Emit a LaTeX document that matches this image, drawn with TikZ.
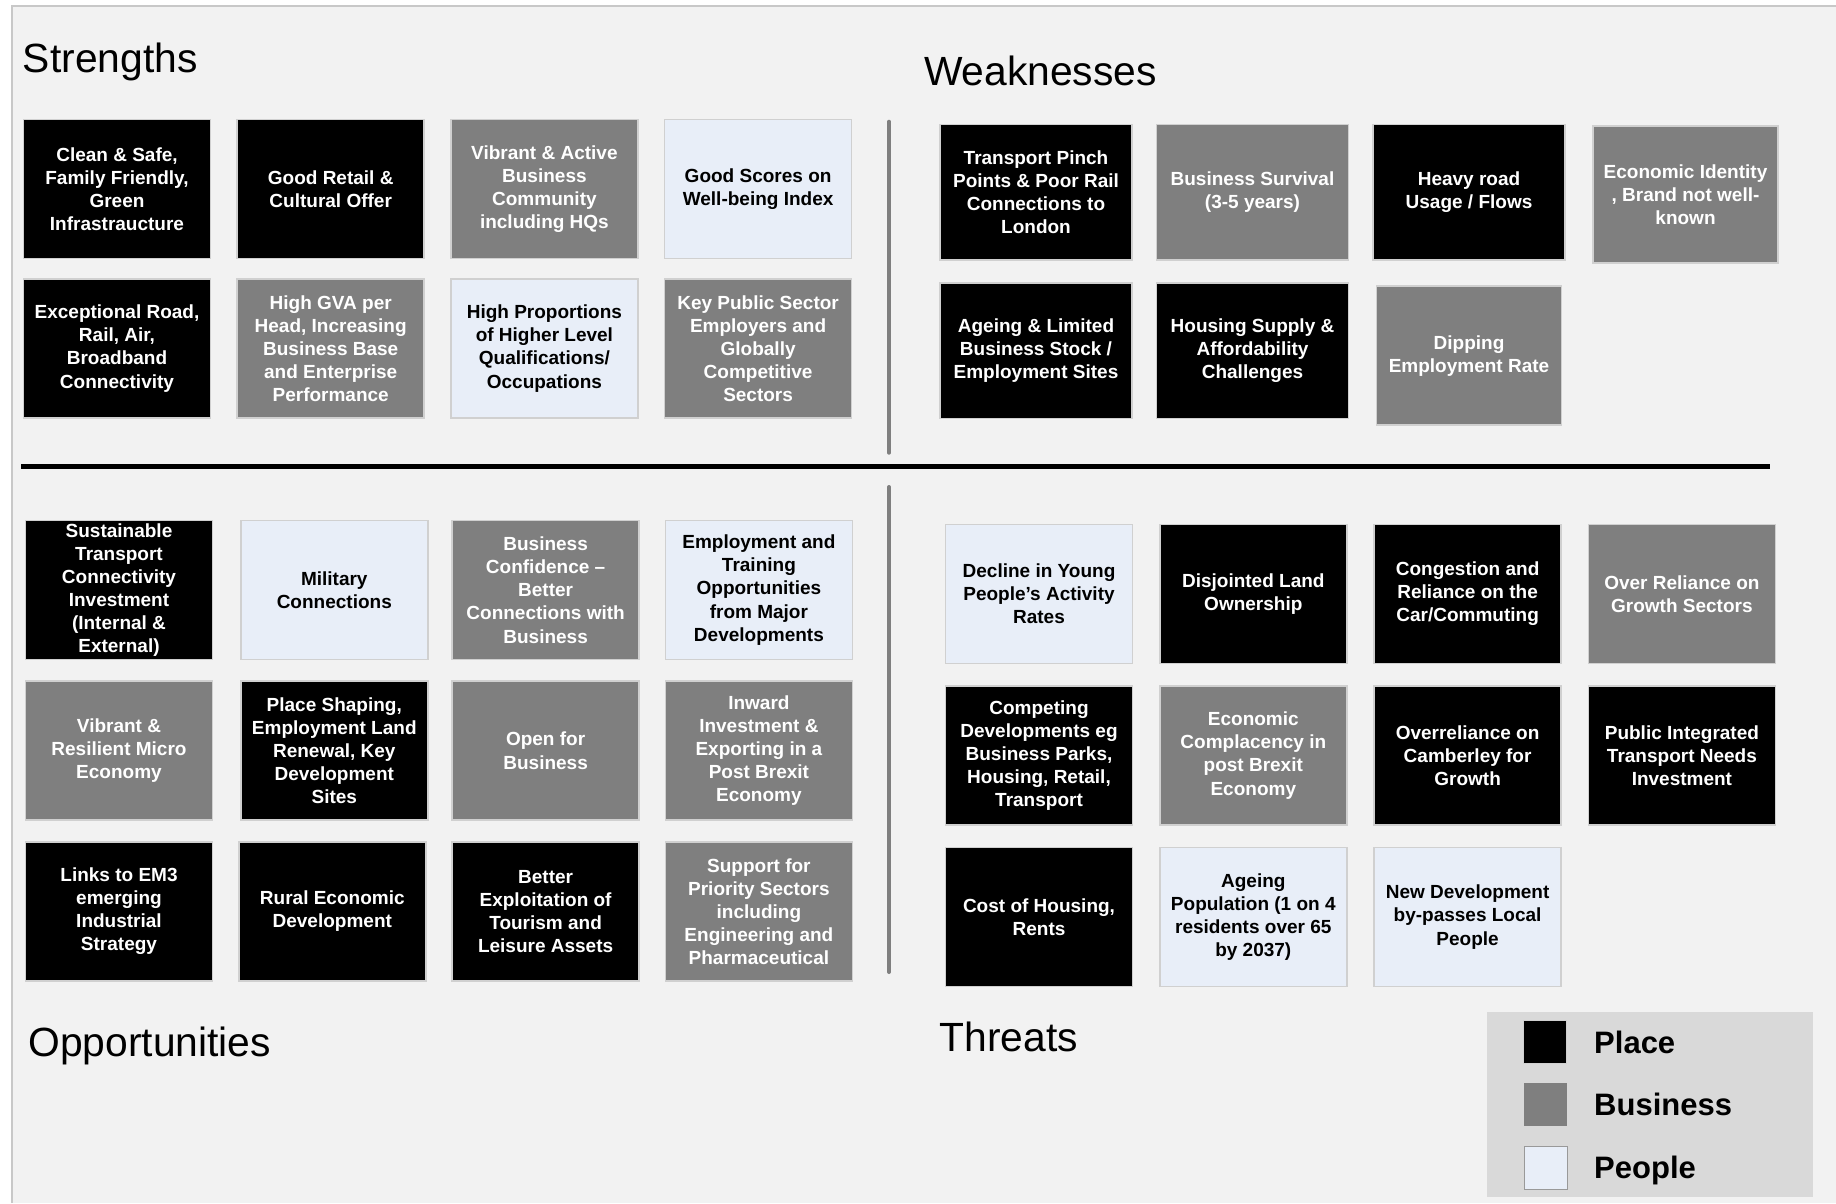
\documentclass[tikz,border=0pt]{standalone}
\usepackage{fontspec}
\setmainfont{Liberation Sans}
\usepackage{xcolor}
\usetikzlibrary{positioning}

\definecolor{bggrey}{HTML}{F2F2F2}
\definecolor{framegrey}{HTML}{C8C8C8}
\definecolor{bizgrey}{HTML}{7F7F7F}
\definecolor{peopleblue}{HTML}{E8EEF8}
\definecolor{keygrey}{HTML}{D9D9D9}
\definecolor{boxedge}{HTML}{D0D0D0}
\newcommand{\boxfont}{\fontsize{19}{23.1}\selectfont\bfseries}
\newcommand{\titlefont}{\fontsize{40.8}{48}\selectfont}
\newcommand{\keyfont}{\fontsize{31}{37}\selectfont\bfseries}

\begin{document}
\begin{tikzpicture}[x=1pt, y=-1pt, on grid]
\tikzstyle{swot} = [draw=boxedge, line width=1.5pt, minimum width=187pt, minimum height=139pt, inner sep=0pt, align=center, font=\boxfont]
\tikzstyle{placebox} = [swot, fill=black, text=white]
\tikzstyle{bizbox} = [swot, fill=bizgrey, text=white]
\tikzstyle{peoplebox} = [swot, fill=peopleblue, text=black]
\tikzstyle{wbox} = [minimum width=192pt, minimum height=135.5pt]
\tikzstyle{heading} = [anchor=base west, inner sep=0pt, font=\titlefont]
\tikzstyle{divider} = [draw=bizgrey, line width=4pt, line cap=round]
\tikzstyle{swatch} = [draw=boxedge, line width=1pt, minimum width=43pt, minimum height=43pt, inner sep=0pt]
\tikzstyle{keylabel} = [font=\keyfont, inner sep=0pt, text height=22.2pt, text depth=0pt]

\useasboundingbox (0,0) rectangle (1836,1203);
\fill[white] (0,0) rectangle (1836,1203);
\fill[bggrey] (11.7,6) rectangle (1836,1203);
\draw[framegrey, line width=2pt] (11.7,1203) -- (11.7,6) -- (1836,6);

% headings
\node[heading] (strengths) at (22.7,72.7) {Strengths};
\node[heading] (weaknesses) at (923.8,85.5) {Weaknesses};
\node[heading] (opportunities) at (28.1,1056) {Opportunities};
\node[heading] (threats) at (939.3,1051.7) {Threats};

% cross
\coordinate (vtop) at (889,121.7);
\coordinate (vmid) at (889,452.7);
\coordinate (vlow) at (889,487);
\coordinate (vbot) at (889,972);
\coordinate (hleft) at (21,466.7);
\coordinate (hright) at (1770,466.7);
\draw[divider] (vtop) -- (vmid);
\draw[divider] (vlow) -- (vbot);
\draw[line width=4.5pt] (hleft) -- (hright);

% strengths
\begin{scope}[node distance=159.5pt and 213.7pt]
\node[placebox] (S1) at (117,189) {Clean \& Safe,\\Family Friendly,\\Green\\Infrastraucture};
\node[placebox] (S2)[right=of S1] {Good Retail \&\\Cultural Offer};
\node[bizbox] (S3)[right=of S2] {Vibrant \& Active\\Business\\Community\\including HQs};
\node[peoplebox] (S4)[right=of S3] {Good Scores on\\Well-being Index};
\node[placebox] (S5)[below=of S1] {Exceptional Road,\\Rail, Air,\\Broadband\\Connectivity};
\node[bizbox] (S6)[right=of S5] {High GVA per\\Head, Increasing\\Business Base\\and Enterprise\\Performance};
\node[peoplebox] (S7)[right=of S6] {High Proportions\\of Higher Level\\Qualifications/\\Occupations};
\node[bizbox] (S8)[right=of S7] {Key Public Sector\\Employers and\\Globally\\Competitive\\Sectors};
\end{scope}

% weaknesses
\begin{scope}[node distance=158.7pt and 216.5pt]
\node[placebox, wbox] (W1) at (1036,192) {Transport Pinch\\Points \& Poor Rail\\Connections to\\London};
\node[bizbox, wbox] (W2)[right=of W1] {Business Survival\\(3-5 years)};
\node[placebox, wbox] (W3)[right=of W2] {Heavy road\\Usage / Flows};
\node[bizbox, minimum width=185pt, minimum height=137pt] (W4)[right=of W3, yshift=-2.4pt] {Economic Identity\\, Brand not well-\\known};
\node[placebox, wbox] (W5)[below=of W1] {Ageing \& Limited\\Business Stock /\\Employment Sites};
\node[placebox, wbox] (W6)[right=of W5] {Housing Supply \&\\Affordability\\Challenges};
\node[bizbox, minimum width=185pt, minimum height=139pt] (W7)[right=of W6, yshift=-5pt] {Dipping\\Employment Rate};
\end{scope}

% opportunities
\begin{scope}[node distance=160.7pt and 213.3pt]
\node[placebox] (O1) at (119,590) {Sustainable\\Transport\\Connectivity\\Investment\\(Internal \&\\External)};
\node[peoplebox] (O2)[right=of O1, xshift=2pt] {Military\\Connections};
\node[bizbox] (O3)[right=of O2, xshift=-2pt] {Business\\Confidence –\\Better\\Connections with\\Business};
\node[peoplebox] (O4)[right=of O3] {Employment and\\Training\\Opportunities\\from Major\\Developments};
\node[bizbox] (O5)[below=of O1] {Vibrant \&\\Resilient Micro\\Economy};
\node[placebox] (O6)[right=of O5, xshift=2pt] {Place Shaping,\\Employment Land\\Renewal, Key\\Development\\Sites};
\node[bizbox] (O7)[right=of O6, xshift=-2pt] {Open for\\Business};
\node[bizbox] (O8)[right=of O7] {Inward\\Investment \&\\Exporting in a\\Post Brexit\\Economy};
\node[placebox] (O9)[below=of O5] {Links to EM3\\emerging\\Industrial\\Strategy};
\node[placebox] (O10)[right=of O9] {Rural Economic\\Development};
\node[placebox] (O11)[right=of O10] {Better\\Exploitation of\\Tourism and\\Leisure Assets};
\node[bizbox] (O12)[right=of O11] {Support for\\Priority Sectors\\including\\Engineering and\\Pharmaceutical};
\end{scope}

% threats
\begin{scope}[node distance=161.5pt and 214.3pt]
\node[peoplebox] (T1) at (1039,594) {Decline in Young\\People’s Activity\\Rates};
\node[placebox] (T2)[right=of T1] {Disjointed Land\\Ownership};
\node[placebox] (T3)[right=of T2] {Congestion and\\Reliance on the\\Car/Commuting};
\node[bizbox] (T4)[right=of T3] {Over Reliance on\\Growth Sectors};
\node[placebox] (T5)[below=of T1] {Competing\\Developments eg\\Business Parks,\\Housing, Retail,\\Transport};
\node[bizbox] (T6)[right=of T5] {Economic\\Complacency in\\post Brexit\\Economy};
\node[placebox] (T7)[right=of T6] {Overreliance on\\Camberley for\\Growth};
\node[placebox] (T8)[right=of T7] {Public Integrated\\Transport Needs\\Investment};
\node[placebox] (T9)[below=of T5] {Cost of Housing,\\Rents};
\node[peoplebox] (T10)[right=of T9] {Ageing\\Population (1 on 4\\residents over 65\\by 2037)};
\node[peoplebox] (T11)[right=of T10] {New Development\\by-passes Local\\People};
\end{scope}

% key
\fill[keygrey] (1487.3,1011.7) rectangle (1813.3,1196.7);
\begin{scope}[on grid=false]
\node[swatch, fill=black] (LP) at (1545,1042) {};
\node[swatch, fill=bizgrey, draw=none] (LB) at (1545,1104.7) {};
\node[swatch, fill=peopleblue, draw=gray!80] (LQ) at (1546,1167.5) {};
\node[keylabel] (place)[right=27pt of LP] {Place};
\node[keylabel] (business)[right=27pt of LB] {Business};
\node[keylabel] (people)[right=26pt of LQ] {People};
\end{scope}

\end{tikzpicture}
\end{document}
